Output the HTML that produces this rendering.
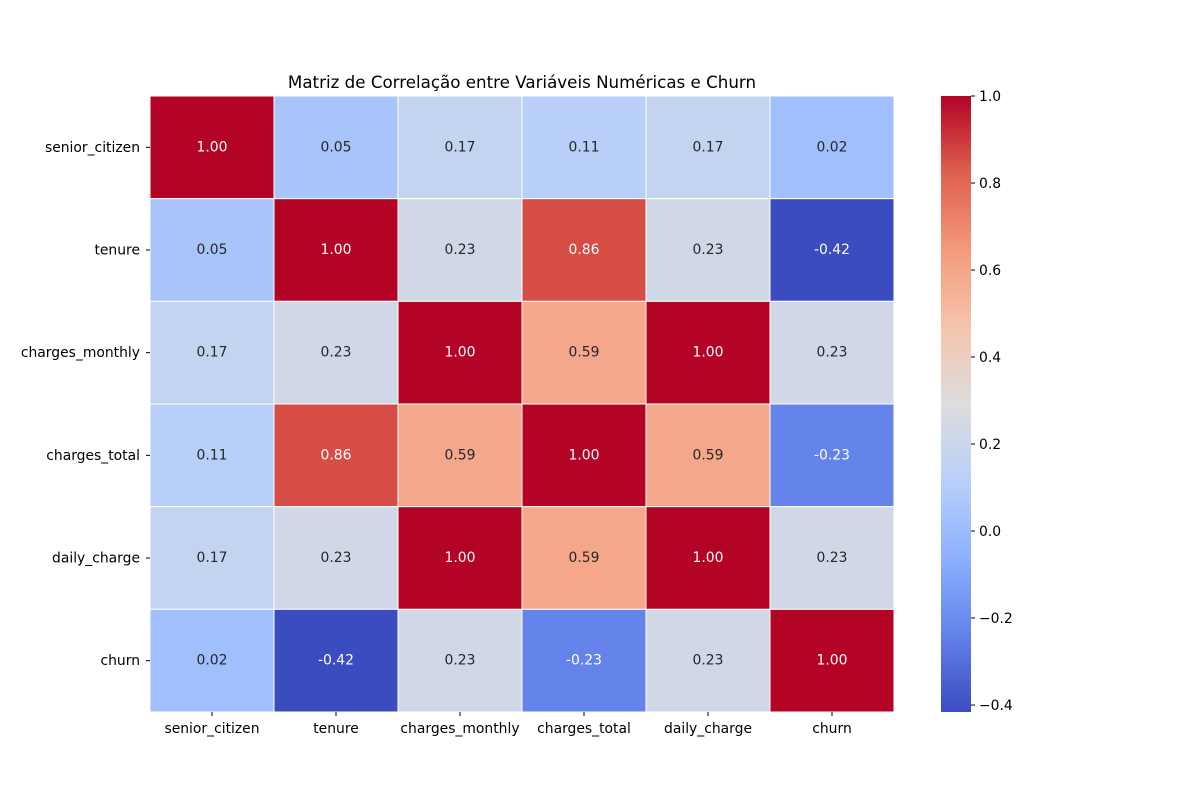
<!DOCTYPE html>
<html><head><meta charset="utf-8"><style>
html,body{margin:0;padding:0;background:#fff;}
svg text{font-family:"DejaVu Sans","Liberation Sans",sans-serif;}
</style></head><body>
<svg id="chart" width="1200" height="800" xmlns="http://www.w3.org/2000/svg">
<text x="522" y="88" font-size="16.7" text-anchor="middle" fill="#000">Matriz de Correlação entre Variáveis Numéricas e Churn</text>
<g id="cells"></g>
<g id="xlabels"></g>
<g id="ylabels"></g>
<defs><linearGradient id="cbgrad" x1="0" y1="1" x2="0" y2="0"></linearGradient></defs>
<rect x="941" y="96" width="30" height="616" fill="url(#cbgrad)"/>
<g id="cbticks"></g>
</svg>
<script>
const labels = ["senior_citizen","tenure","charges_monthly","charges_total","daily_charge","churn"];
const row0 = [1.00,0.05,0.17,0.11,0.17,0.02];
const row1 = [0.05,1.00,0.23,0.86,0.23,-0.42];
const row2 = [0.17,0.23,1.00,0.59,1.00,0.23];
const row3 = [0.11,0.86,0.59,1.00,0.59,-0.23];
const row4 = [0.17,0.23,1.00,0.59,1.00,0.23];
const row5 = [0.02,-0.42,0.23,-0.23,0.23,1.00];
const matrix = [row0,row1,row2,row3,row4,row5];
const cbTicks = [-0.4,-0.2,0.0,0.2,0.4,0.6,0.8,1.0];
const vmin = -0.416, vmax = 1.0;

const NS = "http://www.w3.org/2000/svg";
const X0 = 150, X1 = 894, Y0 = 96, Y1 = 712;
const cw = (X1-X0)/labels.length, ch = (Y1-Y0)/labels.length;
const cmap = [[59,76,192],[98,130,234],[141,176,254],[184,208,249],[221,221,221],[245,196,173],[244,154,123],[222,96,77],[180,4,38]];
function color(v){
  let t = Math.max(0,Math.min(1,(v-vmin)/(vmax-vmin)))*(cmap.length-1);
  let i = Math.min(Math.floor(t), cmap.length-2), f = t-i;
  return cmap[i].map((a,k)=>Math.round(a+(cmap[i+1][k]-a)*f));
}
function lum(c){const l=c.map(x=>{x/=255;return x<=0.03928?x/12.92:Math.pow((x+0.055)/1.055,2.4)});return 0.2126*l[0]+0.7152*l[1]+0.0722*l[2];}
function mk(tag, attrs, parent){const e=document.createElementNS(NS,tag);for(const k in attrs)e.setAttribute(k,attrs[k]);parent.appendChild(e);return e;}
const cells = document.getElementById('cells');
matrix.forEach((row,r)=>row.forEach((v,c)=>{
  const col = color(v);
  const rect = mk('rect',{x:X0+c*cw,y:Y0+r*ch,width:cw,height:ch,fill:`rgb(${col})`,stroke:'#fff','stroke-width':1},cells);
  
  
  const t = mk('text',{x:X0+(c+0.5)*cw,y:Y0+(r+0.5)*ch+4,'font-size':13.9,'text-anchor':'middle',fill:lum(col)<0.408?'#fff':'#262626'},cells);
  t.textContent = v.toFixed(2);
  
  
}));
const xl = document.getElementById('xlabels'), yl = document.getElementById('ylabels');
labels.forEach((l,i)=>{
  mk('line',{x1:X0+(i+0.5)*cw,x2:X0+(i+0.5)*cw,y1:Y1,y2:Y1+4,stroke:'#000'},xl);
  const t = mk('text',{x:X0+(i+0.5)*cw,y:Y1+21,'font-size':13.9,'text-anchor':'middle',fill:'#000'},xl);
  t.textContent = l;
  
  
  mk('line',{x1:X0-4,x2:X0,y1:Y0+(i+0.5)*ch,y2:Y0+(i+0.5)*ch,stroke:'#000'},yl);
  const u = mk('text',{x:X0-10,y:Y0+(i+0.5)*ch+4.5,'font-size':13.9,'text-anchor':'end',fill:'#000'},yl);
  u.textContent = l;
  
  
});
const grad = document.getElementById('cbgrad');
cmap.forEach((c,i)=>mk('stop',{offset:(i/(cmap.length-1)),'stop-color':`rgb(${c})`},grad));
const cbt = document.getElementById('cbticks');
cbTicks.forEach(v=>{
  const y = Y1-(v-vmin)/(vmax-vmin)*(Y1-Y0);
  mk('line',{x1:971,x2:975,y1:y,y2:y,stroke:'#000'},cbt);
  const t = mk('text',{x:979,y:y+5,'font-size':13.9,fill:'#000'},cbt);
  t.textContent = (v<0?'\u2212':'')+Math.abs(v).toFixed(1);
  
  
});
</script>
</body></html>
